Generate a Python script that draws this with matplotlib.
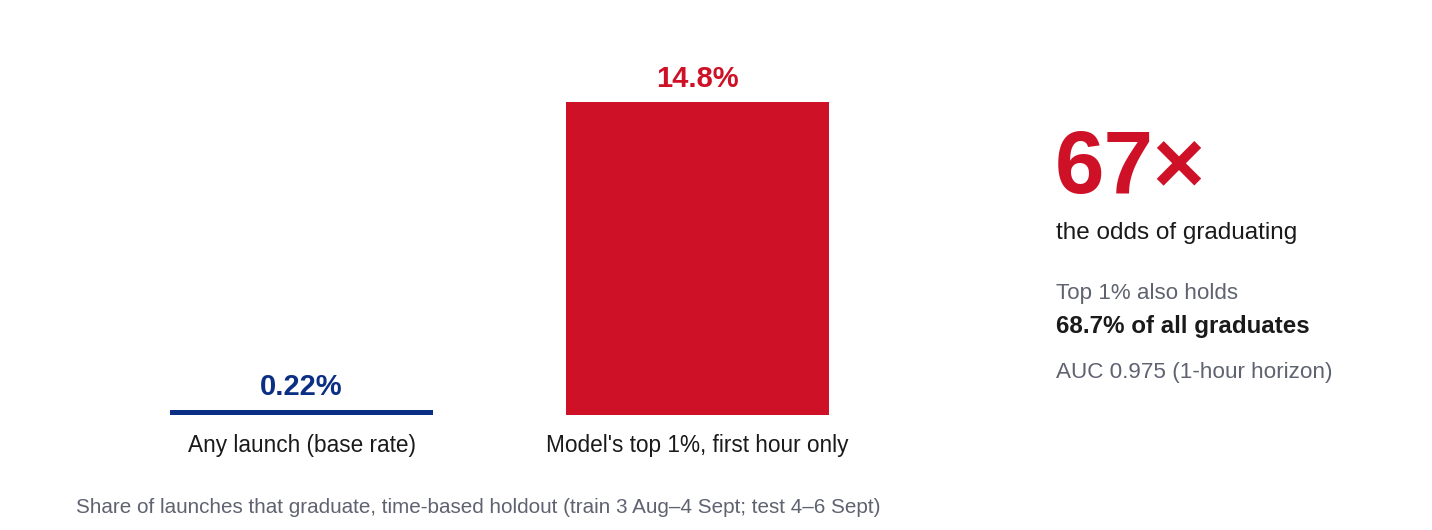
import matplotlib
matplotlib.use("Agg")
import matplotlib.pyplot as plt

plt.rcParams['font.family'] = ['Liberation Sans', 'DejaVu Sans']

categories = ["Any launch (base rate)", "Model's top 1%, first hour only"]
rates = [0.22, 14.8]
rate_labels = ["0.22%", "14.8%"]
bar_colors = ["#0b2f84", "#cf1127"]

headline = "67×"
headline_sub = "the odds of graduating"
note_lines = ["Top 1% also holds", "68.7% of all graduates", "AUC 0.975 (1-hour horizon)"]
footer = "Share of launches that graduate, time-based holdout (train 3 Aug–4 Sept; test 4–6 Sept)"

RED = "#cf1127"
GREY = "#5f6370"
DARK = "#1a1a1a"

W, H = 1432, 530
fig = plt.figure(figsize=(W / 100, H / 100), dpi=100)


def fx(px):
    return px / W


def fy(py):
    return 1 - py / H


# axes placed so bar centres land at x=301/697 and baseline at y=414
ax = fig.add_axes([fx(103.5), fy(414.5), fx(396 * 2), fy(102) - fy(414.5)])
xs = range(len(categories))
ax.bar(xs, rates, width=0.664, color=bar_colors)
ax.set_xlim(-0.5, 1.5)
ax.set_ylim(0, max(rates))
ax.axis('off')

for x, r, lab, c in zip(xs, rates, rate_labels, bar_colors):
    ax.annotate(lab, (x, r), xytext=(0, 10.5), textcoords='offset points',
                ha='center', va='baseline', fontsize=21, fontweight='bold',
                color=c, annotation_clip=False)
    ax.annotate(categories[x], (x, 0), xytext=(0, -27), textcoords='offset points',
                ha='center', va='baseline', fontsize=16.3, color=DARK,
                annotation_clip=False)

fig.text(fx(1055), fy(193), headline, fontsize=64, fontweight='bold',
         color=RED, va='baseline', ha='left')
fig.text(fx(1056), fy(239), headline_sub, fontsize=17.5, color=DARK,
         va='baseline', ha='left')
fig.text(fx(1056), fy(299), note_lines[0], fontsize=16.1, color=GREY,
         va='baseline', ha='left')
fig.text(fx(1056), fy(333), note_lines[1], fontsize=17.4, fontweight='bold',
         color=DARK, va='baseline', ha='left')
fig.text(fx(1056), fy(378), note_lines[2], fontsize=16.2, color=GREY,
         va='baseline', ha='left')

fig.text(fx(76), fy(513), footer, fontsize=14.9, color=GREY,
         va='baseline', ha='left')

fig.savefig("out.png", dpi=100)
